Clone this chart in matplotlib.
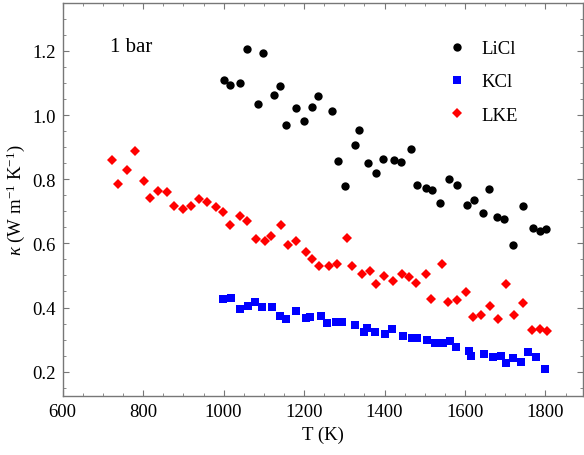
import numpy as np
import matplotlib
matplotlib.use('Agg')
from matplotlib import pyplot as plt
from matplotlib.ticker import MultipleLocator

# data (T in K, kappa in W m^-1 K^-1)
licl_T = [1001, 1017, 1040, 1057, 1085, 1097, 1125, 1139, 1155, 1180, 1200, 1220, 1234, 1269,
          1285, 1302, 1327, 1336, 1360, 1378, 1397, 1423, 1441, 1465, 1480, 1502, 1518, 1539,
          1560, 1580, 1604, 1623, 1645, 1660, 1680, 1698, 1719, 1745, 1768, 1786, 1801]
licl_k = [1.109, 1.095, 1.101, 1.205, 1.036, 1.193, 1.063, 1.091, 0.968, 1.022, 0.982, 1.026, 1.060, 1.012,
          0.856, 0.778, 0.907, 0.952, 0.851, 0.819, 0.864, 0.860, 0.854, 0.894, 0.781, 0.774, 0.766, 0.726,
          0.801, 0.781, 0.719, 0.735, 0.695, 0.771, 0.683, 0.677, 0.596, 0.718, 0.649, 0.639, 0.644]

kcl_T = [999, 1019, 1041, 1061, 1079, 1096, 1121, 1141, 1156, 1180, 1205, 1215, 1242, 1257,
         1280, 1295, 1327, 1349, 1357, 1377, 1401, 1419, 1446, 1469, 1481, 1506, 1526, 1546,
         1563, 1578, 1610, 1615, 1647, 1670, 1690, 1702, 1720, 1739, 1757, 1777, 1799]
kcl_k = [0.426, 0.429, 0.394, 0.404, 0.416, 0.401, 0.401, 0.373, 0.363, 0.388, 0.366, 0.370, 0.373, 0.351,
         0.354, 0.354, 0.345, 0.323, 0.335, 0.323, 0.317, 0.332, 0.310, 0.304, 0.304, 0.298, 0.289, 0.289,
         0.296, 0.276, 0.264, 0.248, 0.254, 0.245, 0.248, 0.226, 0.242, 0.229, 0.260, 0.245, 0.208]

lke_T = [722, 738, 759, 779, 801, 818, 837, 860, 877, 899, 919, 939, 958, 982, 998,
         1017, 1041, 1059, 1081, 1102, 1119, 1143, 1160, 1181, 1204, 1219, 1237, 1263, 1282,
         1306, 1320, 1343, 1364, 1380, 1399, 1421, 1444, 1460, 1478, 1503, 1516, 1542, 1558,
         1581, 1602, 1619, 1639, 1662, 1681, 1703, 1723, 1745, 1766, 1787, 1805]
lke_k = [0.860, 0.785, 0.829, 0.888, 0.793, 0.741, 0.762, 0.760, 0.717, 0.706, 0.718, 0.738, 0.729, 0.713, 0.697,
         0.657, 0.685, 0.669, 0.613, 0.606, 0.624, 0.658, 0.594, 0.607, 0.573, 0.550, 0.530, 0.530, 0.535,
         0.617, 0.528, 0.505, 0.514, 0.472, 0.497, 0.484, 0.503, 0.495, 0.475, 0.505, 0.428, 0.536, 0.417,
         0.424, 0.447, 0.370, 0.377, 0.406, 0.363, 0.472, 0.377, 0.413, 0.329, 0.333, 0.327]

plt.rcParams['font.family'] = 'Liberation Serif'
plt.rcParams['mathtext.fontset'] = 'custom'
plt.rcParams['mathtext.rm'] = 'Liberation Serif'
plt.rcParams['mathtext.it'] = 'Liberation Serif:italic'

fig = plt.figure(figsize=(5.84, 4.56), dpi=100)
ax = fig.add_axes([0.1074, 0.130, 0.8906, 0.861])

ax.plot(licl_T, licl_k, 'o', color='black', ms=6, mew=0, label='LiCl')
ax.plot(kcl_T, kcl_k, 's', color='#0000ff', ms=5.6, mew=0, label='KCl')
ax.plot(lke_T, lke_k, 'D', color='#ff0000', ms=4.8, mew=0, label='LKE')

ax.set_xlim(600, 1893)
ax.set_ylim(0.125, 1.349)
ax.xaxis.set_major_locator(MultipleLocator(200))
ax.xaxis.set_minor_locator(MultipleLocator(50))
ax.yaxis.set_major_locator(MultipleLocator(0.2))
ax.yaxis.set_minor_locator(MultipleLocator(0.05))
ax.yaxis.set_major_formatter(matplotlib.ticker.FormatStrFormatter('%.1f'))

for s in ax.spines.values():
    s.set_color('#777777')
    s.set_linewidth(1.0)
ax.tick_params(which='both', direction='in', top=True, right=True, color='#777777',
               labelsize=13.5, pad=5)
ax.tick_params(which='major', length=4.5, width=0.8)
ax.tick_params(which='minor', length=2.5, width=0.6)

ax.set_xlabel('T (K)', fontsize=13.5, labelpad=4)
ax.set_ylabel(r'$\kappa$ (W m$^{-1}$ K$^{-1}$)', fontsize=13.5, labelpad=4)

ax.text(0.091, 0.89, '1 bar', transform=ax.transAxes, fontsize=15, va='center', ha='left')

ax.legend(loc='upper right', bbox_to_anchor=(0.897, 0.934), frameon=False, fontsize=13.5,
          handlelength=0.8, handletextpad=0.9, labelspacing=0.85, borderaxespad=0.2)

fig.savefig('out.png', dpi=100)
